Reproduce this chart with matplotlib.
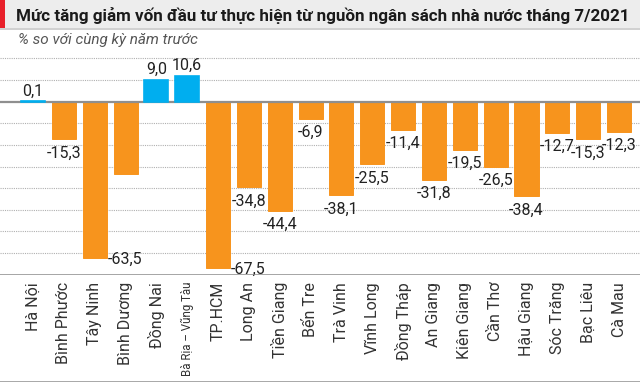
import numpy as np
import matplotlib
matplotlib.use('Agg')
from matplotlib import pyplot as plt
from matplotlib.patches import Rectangle
from matplotlib.lines import Line2D

provinces = ['Hà Nội', 'Bình Phước', 'Tây Ninh', 'Bình Dương', 'Đồng Nai',
             'Bà Rịa – Vũng Tàu', 'TP.HCM', 'Long An', 'Tiền Giang', 'Bến Tre',
             'Trà Vinh', 'Vĩnh Long', 'Đồng Tháp', 'An Giang', 'Kiên Giang',
             'Cần Thơ', 'Hậu Giang', 'Sóc Trăng', 'Bạc Liêu', 'Cà Mau']
change = [0.1, -15.3, -63.5, -29.4, 9.0, 10.6, -67.5, -34.8, -44.4, -6.9,
          -38.1, -25.5, -11.4, -31.8, -19.5, -26.5, -38.4, -12.7, -15.3, -12.3]
# Binh Duong has no label in the source, its value is read from the bar length
shown = [True, True, True, False, True, True, True, True, True, True,
         True, True, True, True, True, True, True, True, True, True]
side_label = ['Tây Ninh', 'TP.HCM']

title = 'Mức tăng giảm vốn đầu tư thực hiện từ nguồn ngân sách nhà nước tháng 7/2021'
subtitle = '% so với cùng kỳ năm trước'

plt.rcParams['font.family'] = ['Roboto', 'DejaVu Sans']

orange = '#f7941d'
blue = '#00aeef'

fig = plt.figure(figsize=(6.4, 3.82), dpi=100)
W, H = 640, 382

# title bar
fig.patches.append(Rectangle((0, 1 - 28 / H), 1, 28 / H, transform=fig.transFigure,
                             facecolor='#ededed', edgecolor='none', zorder=0))
fig.patches.append(Rectangle((0, 1 - 28 / H), 5 / W, 28 / H, transform=fig.transFigure,
                             facecolor='#e8202a', edgecolor='none', zorder=1))
fig.lines.append(Line2D([0, 1], [1 - 29 / H, 1 - 29 / H], transform=fig.transFigure,
                        color='#c8c8c8', linewidth=1.2))
fig.lines.append(Line2D([0, 1], [0.5 / H, 0.5 / H], transform=fig.transFigure,
                        color='#9a9a9a', linewidth=1.2))

t = fig.text(16 / W, 1 - 15 / H, title, fontsize=13, fontweight='bold', color='#1a1a1a',
             ha='left', va='center')
fig.canvas.draw()
w = t.get_window_extent().width
t.set_fontsize(13 * 614 / w)

fig.text(18 / W, 1 - 40 / H, subtitle, fontsize=11, fontstyle='italic', color='#555555',
         ha='left', va='center')

ax = fig.add_axes([0, (H - 275) / H, 1, (275 - 52) / H])
x = np.arange(len(provinces))
colors = [blue if v > 0 else orange for v in change]
bars = ax.bar(x, change, width=0.78, color=colors, edgecolor=colors, linewidth=0.7, zorder=3)
for b, v in zip(bars, change):
    if v > 0:
        b.set_zorder(5)
        b.set_linewidth(1.2)

step = 8.78
ax.set_ylim(-70.4, 20.2)
ax.set_xlim(-1.07, 19.68)
for k in range(-7, 3):
    if k != 0:
        ax.axhline(k * step, color='#b0b0b0', linewidth=0.8, linestyle=(0, (1, 1)), zorder=1)
ax.axhline(0, color='#8f8f8f', linewidth=1.6, zorder=4)
ax.axhline(-70.4, color='#8a8a8a', linewidth=1.8, zorder=4)

for i, (name, v) in enumerate(zip(provinces, change)):
    if not shown[i]:
        continue
    label = f'{v:.1f}'.replace('.', ',')
    if v > 0:
        ax.text(i, v + 1.0, label, ha='center', va='bottom', fontsize=11.5, color='#222222')
    elif name in side_label:
        ax.text(i + 0.41, v - 0.5, label, ha='left', va='center', fontsize=11.5, color='#222222')
    else:
        ax.text(i, v - 2.5, label, ha='center', va='top', fontsize=11.5, color='#222222')

ax.set_xticks(x)
ax.set_xticklabels(provinces, rotation=90, fontsize=11.5, color='#333333', va='top')
ax.get_xticklabels()[5].set_fontsize(8.3)
ax.tick_params(axis='x', length=0, pad=5)
ax.set_yticks([])
for s in ax.spines.values():
    s.set_visible(False)

plt.savefig('out.png', dpi=100)
